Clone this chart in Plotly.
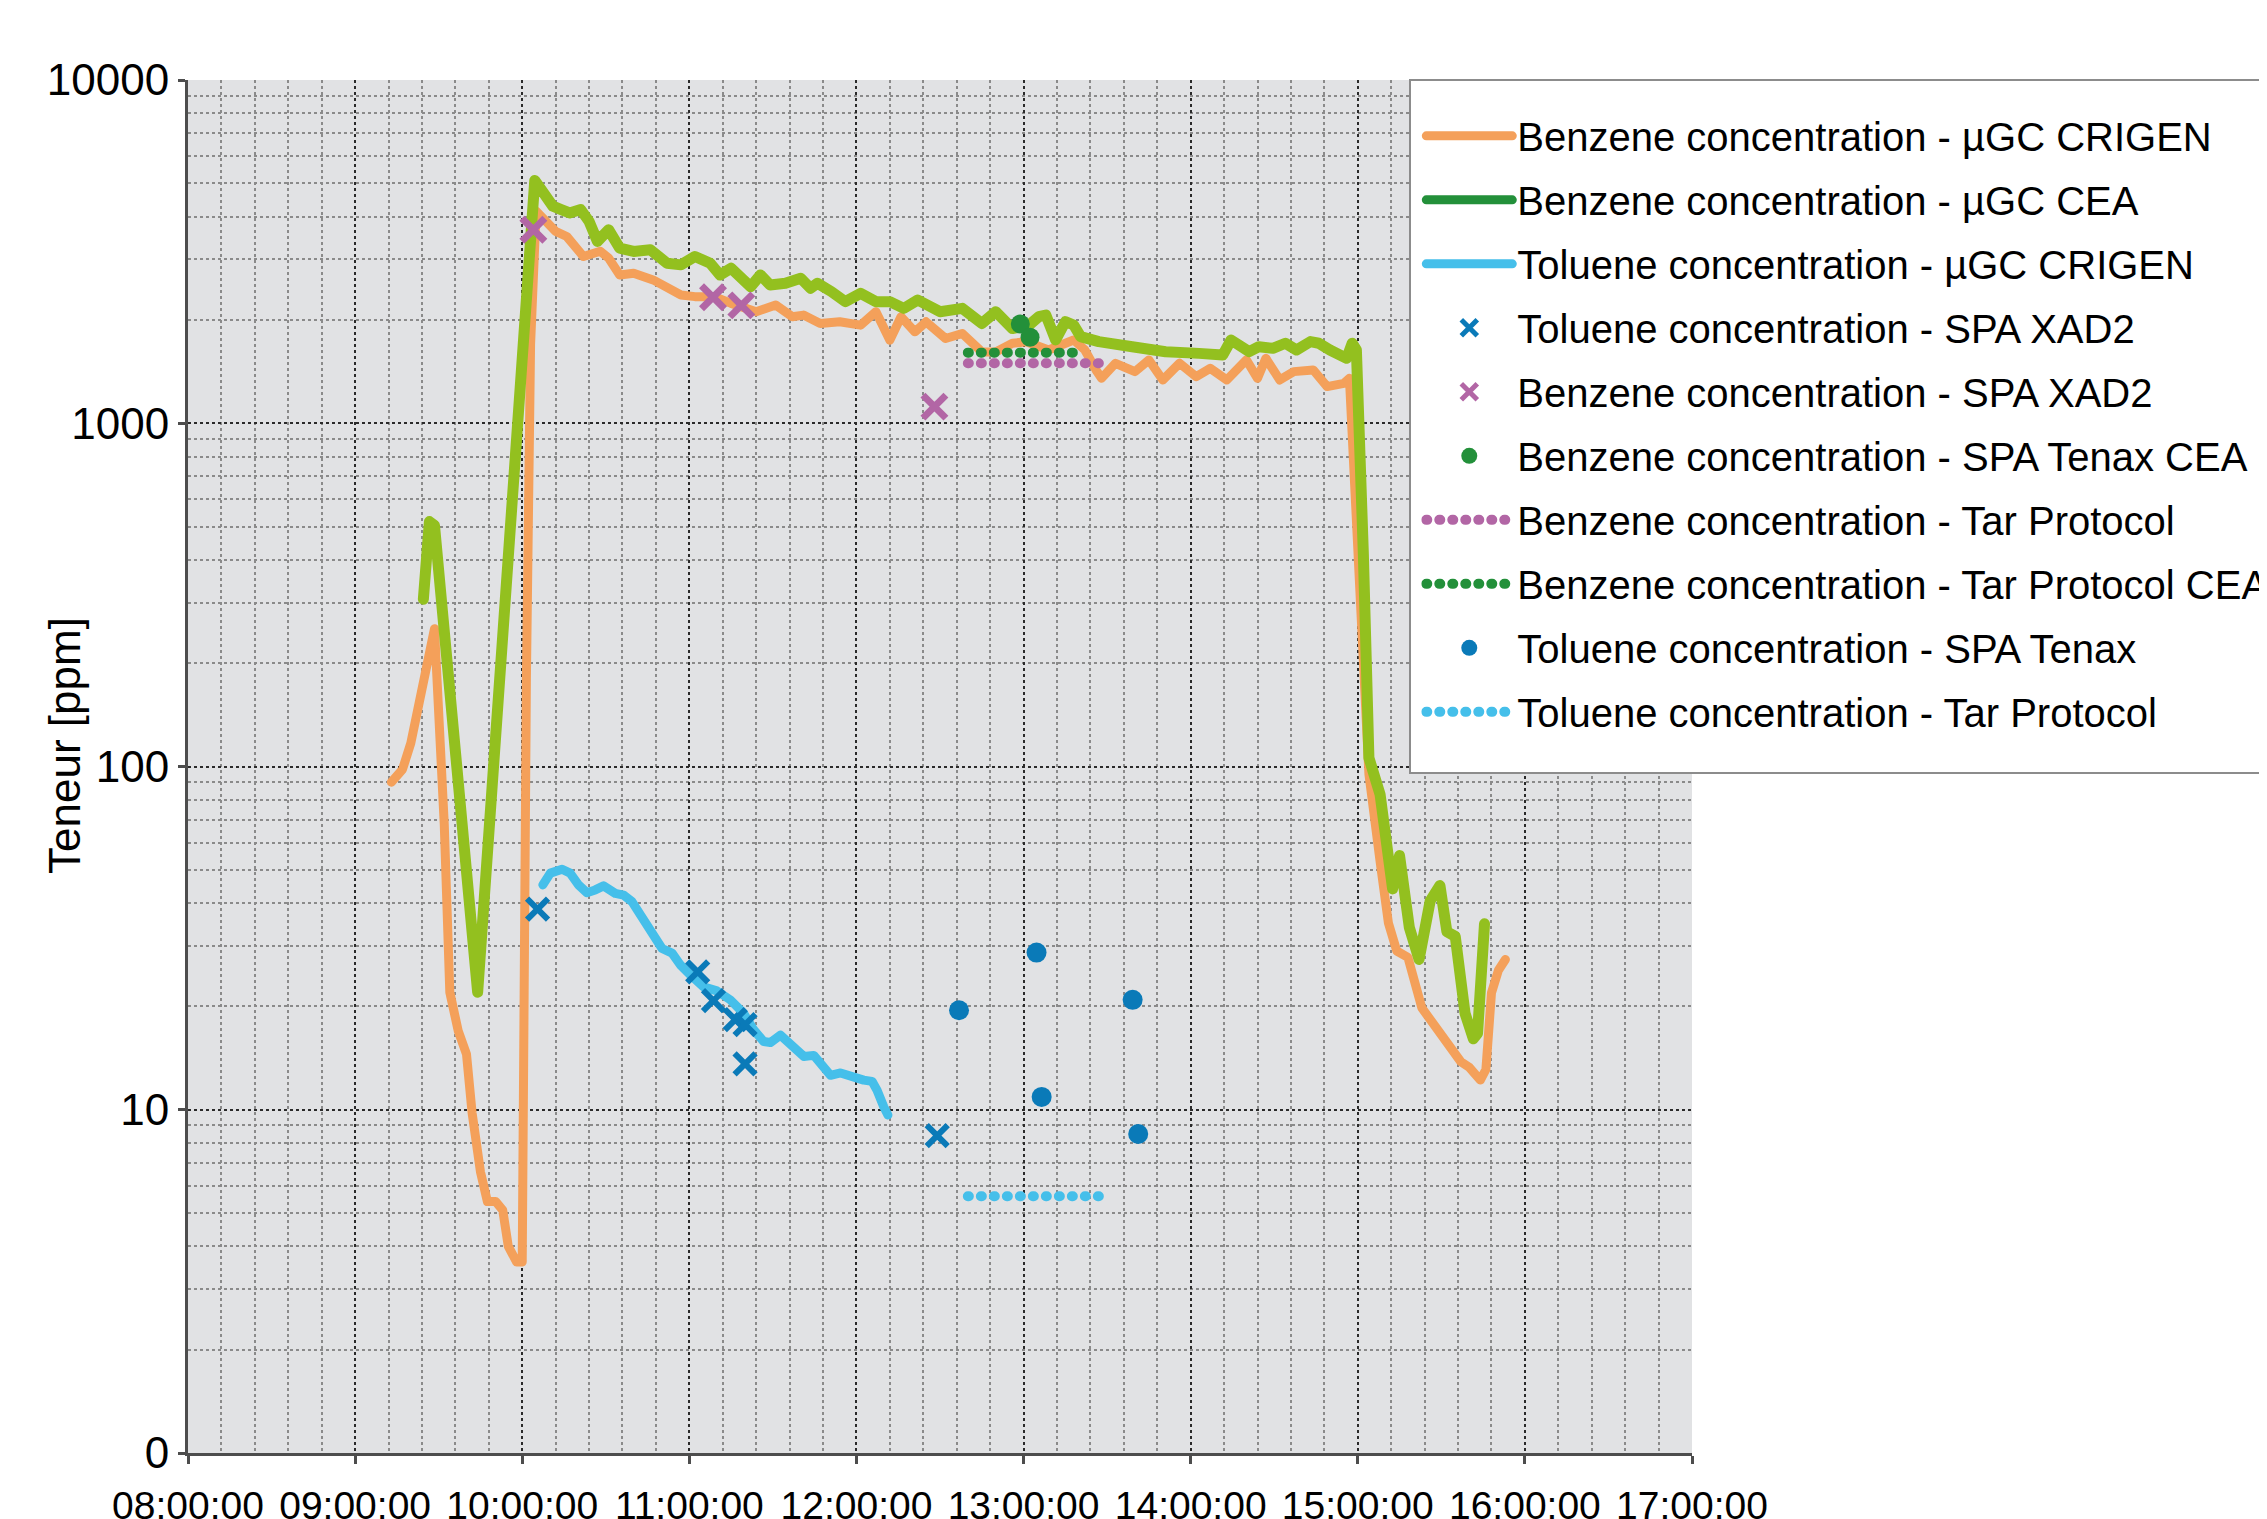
import plotly.graph_objects as go

DAY = "2020-01-01 "

# ---------------- data ----------------
benz_crigen_t = ["09:13:00", "09:17:00", "09:20:00", "09:23:00", "09:26:00", "09:28:30", "09:32:00", "09:34:00",
                 "09:37:00", "09:40:00", "09:42:00", "09:45:00", "09:47:30", "09:50:30", "09:53:00", "09:55:00",
                 "09:58:00", "10:00:00", "10:01:30", "10:03:00", "10:05:00", "10:08:00", "10:12:00", "10:16:00",
                 "10:19:00", "10:22:00", "10:28:00", "10:31:00", "10:35:00", "10:40:00", "10:47:00", "10:52:00",
                 "10:57:00", "11:02:00", "11:09:00", "11:15:00", "11:24:00", "11:31:00", "11:37:00", "11:41:00",
                 "11:47:00", "11:54:00", "12:01:30", "12:07:00", "12:12:00", "12:16:00", "12:21:00", "12:25:00",
                 "12:32:00", "12:38:00", "12:45:00", "12:50:00", "12:56:00", "13:01:00", "13:09:00", "13:18:00",
                 "13:22:00", "13:26:00", "13:28:00", "13:33:00", "13:40:00", "13:45:00", "13:50:00", "13:56:00",
                 "14:02:00", "14:07:00", "14:13:00", "14:20:00", "14:24:00", "14:27:00", "14:32:00", "14:37:00",
                 "14:44:00", "14:49:00", "14:55:00", "14:57:00", "15:02:00", "15:04:00", "15:08:00", "15:11:00",
                 "15:14:00", "15:18:00", "15:23:00", "15:27:00", "15:32:00", "15:37:00", "15:40:00", "15:44:00",
                 "15:46:00", "15:48:00", "15:50:30", "15:53:00"]
benz_crigen_v = [90, 98, 117, 157, 211, 252, 68, 22,
                 17, 14.5, 9.8, 6.6, 5.4, 5.4, 5.1, 4.0,
                 3.6, 3.6, 180, 1700, 4150, 3900, 3620, 3500,
                 3240, 3060, 3170, 3030, 2705, 2735, 2616, 2500,
                 2364, 2338, 2338, 2235, 2113, 2210, 2043, 2066,
                 1953, 1975, 1931, 2113, 1746, 2043, 1846, 1975,
                 1766, 1826, 1614, 1614, 1710, 1727, 1635, 1748,
                 1635, 1430, 1352, 1495, 1414, 1529, 1337, 1495,
                 1367, 1446, 1337, 1529, 1352, 1546, 1337, 1414,
                 1430, 1279, 1307, 1352, 210, 95, 53, 35,
                 29, 27.8, 19.8, 17.8, 15.6, 13.8, 13.3, 12.2,
                 13.1, 21.9, 25.5, 27.4]

benz_cea_t = ["09:24:30", "09:26:40", "09:28:30", "09:44:00", "10:04:30", "10:07:30", "10:11:00", "10:14:00",
              "10:17:00", "10:21:00", "10:24:00", "10:27:00", "10:31:00", "10:35:00", "10:40:00", "10:46:00",
              "10:52:00", "10:57:00", "11:02:00", "11:07:30", "11:11:00", "11:15:00", "11:22:00", "11:25:30",
              "11:29:00", "11:34:30", "11:40:00", "11:43:30", "11:46:00", "11:51:00", "11:56:00", "12:01:30",
              "12:07:00", "12:12:00", "12:17:00", "12:22:00", "12:30:00", "12:38:00", "12:45:00", "12:50:00",
              "12:56:00", "13:02:00", "13:05:30", "13:08:00", "13:11:30", "13:15:00", "13:18:00", "13:20:30",
              "13:27:00", "13:39:00", "13:51:00", "14:03:00", "14:11:30", "14:14:30", "14:21:00", "14:24:30",
              "14:29:30", "14:34:00", "14:38:00", "14:43:00", "14:46:00", "14:50:00", "14:53:30", "14:56:00",
              "14:58:00", "14:59:30", "15:02:00", "15:04:00", "15:08:00", "15:11:00", "15:12:30", "15:15:00",
              "15:18:30", "15:22:00", "15:26:00", "15:29:30", "15:32:00", "15:35:00", "15:38:30", "15:41:30",
              "15:43:00", "15:45:30"]
benz_cea_v = [307, 517, 504, 22, 5100, 4744, 4288, 4193,
              4100, 4193, 3875, 3387, 3663, 3237, 3166, 3202,
              2926, 2894, 3061, 2926, 2705, 2829, 2500, 2705,
              2528, 2557, 2645, 2473, 2557, 2418, 2261, 2391,
              2261, 2261, 2161, 2286, 2113, 2161, 1953, 2113,
              1888, 1933, 2045, 2067, 1748, 1976, 1933, 1788,
              1729, 1671, 1616, 1598, 1580, 1748, 1616, 1671,
              1653, 1710, 1635, 1729, 1710, 1635, 1580, 1546,
              1710, 1635, 416, 106, 83, 53, 44, 55,
              34, 27.4, 40.6, 45, 33, 32, 19.1, 16.1,
              16.7, 34.8]

tol_crigen_t = ["10:07:24", "10:10:06", "10:14:18", "10:17:12", "10:20:12", "10:23:12", "10:26:12", "10:29:12",
                "10:33:24", "10:36:24", "10:39:24", "10:43:36", "10:47:12", "10:50:12", "10:53:48", "10:56:48",
                "11:00:24", "11:05:06", "11:09:54", "11:14:42", "11:19:30", "11:23:06", "11:26:42", "11:29:06",
                "11:32:42", "11:36:18", "11:41:06", "11:44:42", "11:48:18", "11:50:42", "11:54:18", "11:57:48",
                "12:02:36", "12:05:36", "12:07:24", "12:09:48", "12:11:18"]
tol_crigen_v = [45.2, 48.9, 50.2, 48.9, 45.2, 42.9, 43.7, 44.9,
                42.7, 42.2, 40.4, 36.1, 32.3, 29.5, 28.6, 26.4,
                24.7, 22.8, 22.2, 20.9, 19.1, 17.1, 15.8, 15.7,
                16.5, 15.6, 14.3, 14.4, 13.1, 12.6, 12.8, 12.5,
                12.2, 12.1, 11.4, 10.2, 9.65]

tol_xad2_t = ["10:05:30", "11:03:00", "11:08:40", "11:16:30", "11:20:00", "11:20:00", "12:29:00"]
tol_xad2_v = [38.4, 25.2, 20.8, 18.3, 17.7, 13.6, 8.4]

benz_xad2_t = ["10:04:00", "11:08:30", "11:18:40", "12:28:00"]
benz_xad2_v = [3660, 2328, 2205, 1118]

benz_tenax_cea_t = ["12:58:50", "13:02:20"]
benz_tenax_cea_v = [1946, 1780]

benz_tar_t = ["12:40:00", "13:30:00"]
benz_tar_v = [1495, 1495]

benz_tar_cea_t = ["12:40:00", "13:20:30"]
benz_tar_cea_v = [1606, 1606]

tol_tenax_t = ["12:36:50", "13:04:40", "13:06:30", "13:39:10", "13:41:10"]
tol_tenax_v = [19.5, 28.7, 10.9, 20.9, 8.5]

tol_tar_t = ["12:40:00", "13:29:30"]
tol_tar_v = [5.6, 5.6]

y_tick_vals = [1, 10, 100, 1000, 10000]
y_tick_text = ["0", "10", "100", "1000", "10000"]
x_range = ["08:00:00", "17:00:00"]

# ---------------- style ----------------
FONT = "Liberation Sans, Arial, sans-serif"
C_ORANGE = "#F4A05A"
C_LIME = "#93C01F"
C_DGREEN = "#23903A"
C_LBLUE = "#45BFEA"
C_DBLUE = "#0A7AB8"
C_PURPLE = "#B266A5"
DOTS = "1px,12px"


def ts(lst):
    return [DAY + t for t in lst]


fig = go.Figure()


def add(tr, group):
    tr.legendgroup = group
    fig.add_trace(tr)


add(go.Scatter(x=ts(benz_crigen_t), y=benz_crigen_v, mode="lines",
               name="Benzene concentration - µGC CRIGEN",
               line=dict(color=C_ORANGE, width=9)), "g1")
add(go.Scatter(x=ts(benz_cea_t), y=benz_cea_v, mode="lines",
               name="Benzene concentration - µGC CEA", showlegend=False,
               line=dict(color=C_LIME, width=11)), "g2")
add(go.Scatter(x=[None], y=[None], mode="lines",
               name="Benzene concentration - µGC CEA",
               line=dict(color=C_DGREEN, width=9)), "g2")
add(go.Scatter(x=ts(tol_crigen_t), y=tol_crigen_v, mode="lines",
               name="Toluene concentration - µGC CRIGEN",
               line=dict(color=C_LBLUE, width=9)), "g3")
add(go.Scatter(x=ts(tol_xad2_t), y=tol_xad2_v, mode="markers",
               name="Toluene concentration - SPA XAD2",
               marker=dict(symbol="x-thin", size=21, color=C_DBLUE,
                           line=dict(width=6, color=C_DBLUE))), "g4")
add(go.Scatter(x=ts(benz_xad2_t), y=benz_xad2_v, mode="markers",
               name="Benzene concentration - SPA XAD2",
               marker=dict(symbol="x-thin", size=23, color=C_PURPLE,
                           line=dict(width=7, color=C_PURPLE))), "g5")
add(go.Scatter(x=ts(benz_tenax_cea_t), y=benz_tenax_cea_v, mode="markers",
               name="Benzene concentration - SPA Tenax CEA",
               marker=dict(symbol="circle", size=19, color=C_DGREEN)), "g6")
add(go.Scatter(x=ts(benz_tar_t), y=benz_tar_v, mode="lines",
               name="Benzene concentration - Tar Protocol",
               line=dict(color=C_PURPLE, width=10, dash=DOTS)), "g7")
add(go.Scatter(x=ts(benz_tar_cea_t), y=benz_tar_cea_v, mode="lines",
               name="Benzene concentration - Tar Protocol CEA",
               line=dict(color=C_DGREEN, width=10, dash=DOTS)), "g8")
add(go.Scatter(x=ts(tol_tenax_t), y=tol_tenax_v, mode="markers",
               name="Toluene concentration - SPA Tenax",
               marker=dict(symbol="circle", size=20, color=C_DBLUE)), "g9")
add(go.Scatter(x=ts(tol_tar_t), y=tol_tar_v, mode="lines",
               name="Toluene concentration - Tar Protocol",
               line=dict(color=C_LBLUE, width=10, dash=DOTS)), "g10")

GRID_MAJ = "#2a2a2a"
GRID_MIN = "#8a8a8a"
AXIS = "#4d4d4d"

# page has an 8px body margin; figure is sized so the plot lands at page 188..1692 x 80..1453
fig.update_layout(
    width=2259, height=1511,
    margin=dict(l=180, r=575, t=72, b=66, autoexpand=False),
    paper_bgcolor="white", plot_bgcolor="#e1e2e4",
    font=dict(family=FONT, size=40, color="black"),
    showlegend=True,
    legend=dict(x=0.82, y=0.983, xanchor="left", yanchor="top", bgcolor="rgba(0,0,0,0)",
                borderwidth=0, font=dict(size=40, family=FONT),
                itemwidth=86, traceorder="grouped", tracegroupgap=9),
)

# legend frame
fig.add_shape(type="rect", xref="paper", yref="paper", x0=0.8125, x1=1.7, y0=0.4953, y1=1.0,
              fillcolor="white", line=dict(color="#8c8c8c", width=2), layer="above")

fig.update_xaxes(
    type="date", range=ts(x_range), tick0=DAY + "08:00:00", dtick=3600000,
    tickformat="%H:%M:%S", tickfont=dict(size=39, family=FONT),
    showline=True, linecolor=AXIS, linewidth=3, mirror=False,
    ticks="outside", ticklen=8, tickwidth=3, tickcolor=AXIS,
    showgrid=True, gridcolor=GRID_MAJ, gridwidth=2, griddash="dot", zeroline=False,
    ticklabelstandoff=8,
    minor=dict(tick0=DAY + "08:00:00", dtick=720000, showgrid=True, gridcolor=GRID_MIN,
               gridwidth=2, griddash="dot", ticks=""),
)

minor_y = [m * 10 ** k for k in range(4) for m in range(2, 10)]
fig.update_yaxes(
    type="log", range=[0, 4], tickmode="array", tickvals=y_tick_vals, ticktext=y_tick_text,
    tickfont=dict(size=44, family=FONT),
    showline=True, linecolor=AXIS, linewidth=3, mirror=False,
    ticks="outside", ticklen=7, tickwidth=3, tickcolor=AXIS,
    showgrid=True, gridcolor=GRID_MAJ, gridwidth=2, griddash="dot", zeroline=False,
    minor=dict(tickmode="array", tickvals=minor_y, showgrid=True, gridcolor=GRID_MIN,
               gridwidth=2, griddash="dot", ticks=""),
)

fig.add_annotation(text="Teneur [ppm]", textangle=-90, xref="paper", yref="paper",
                   x=-0.0818, y=0.5157, xanchor="center", yanchor="middle", showarrow=False,
                   font=dict(size=44, family=FONT, color="black"))

post = """
document.querySelectorAll('path.js-line').forEach(function(p){
  p.style.strokeLinecap='round'; p.style.strokeLinejoin='round';
});
"""

fig.write_html("out.html", post_script=post)
